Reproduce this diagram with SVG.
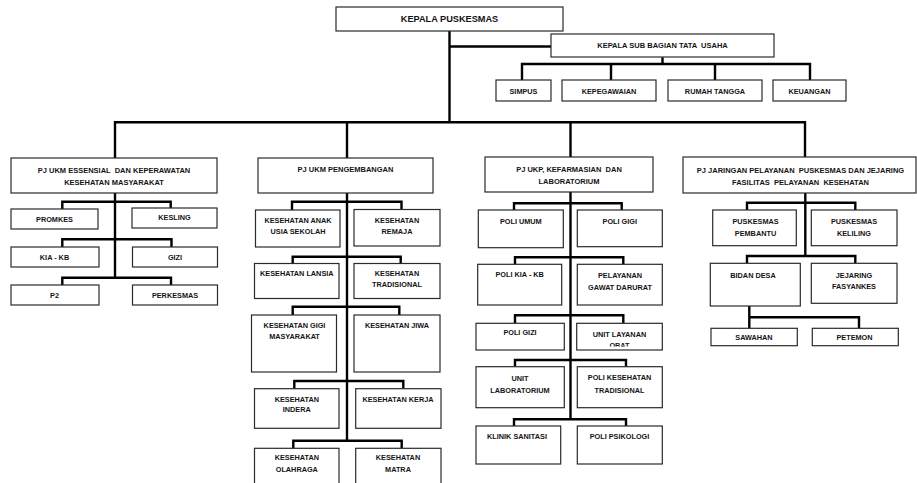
<svg xmlns="http://www.w3.org/2000/svg" width="917" height="483" viewBox="0 0 917 483">
<style>
.box{fill:#fff;stroke:#2a2a2a;stroke-width:1.2}
.t{font-family:"Liberation Sans",Arial,sans-serif;font-weight:bold;font-size:7.3px;fill:#141414;text-anchor:middle;white-space:pre}
.h{font-size:7.5px}
.big{font-size:9.2px}
.c{stroke:#000;stroke-width:2.4;fill:none;stroke-linejoin:miter}
</style>
<defs>
<clipPath id="clipObat"><rect x="576" y="323" width="87" height="23.5"/></clipPath>
</defs>
<rect width="917" height="483" fill="#fff"/>
<g id="connectors">
<path class="c" d="M449.5 31 V122.3"/>
<path class="c" d="M449.5 46.5 H551"/>
<path class="c" d="M662.5 57.3 V64"/>
<path class="c" d="M522 80 V64 H810 V80"/>
<path class="c" d="M611 64 V80"/>
<path class="c" d="M715 64 V80"/>
<path class="c" d="M115 158 V122.3 H805 V158"/>
<path class="c" d="M347 122.3 V158"/>
<path class="c" d="M570.5 122.3 V157"/>
<path class="c" d="M115 193 V277.7"/>
<path class="c" d="M62.3 209 V201.7 H170.7 V208"/>
<path class="c" d="M62.3 247 V239.3 H171.5 V247"/>
<path class="c" d="M62.3 285 V277.7 H171 V285"/>
<path class="c" d="M347 193 V440.7"/>
<path class="c" d="M292 210 V201.7 H401.5 V209.5"/>
<path class="c" d="M292.7 263.5 V256.7 H400.7 V263.5"/>
<path class="c" d="M292.7 315 V306.7 H399.3 V315"/>
<path class="c" d="M294.3 388.7 V381 H403.3 V388.7"/>
<path class="c" d="M293.3 448.3 V440.7 H401.7 V448.3"/>
<path class="c" d="M570.5 192 V419.3"/>
<path class="c" d="M514 210 V203.3 H621.7 V210"/>
<path class="c" d="M515 264.3 V257.3 H623.3 V264.3"/>
<path class="c" d="M515 323.3 V315.3 H623.3 V323.3"/>
<path class="c" d="M515 366.7 V360 H626 V366.7"/>
<path class="c" d="M514 426 V419.3 H626 V426"/>
<path class="c" d="M805.3 193 V256"/>
<path class="c" d="M747 210 V202.7 H855.3 V210"/>
<path class="c" d="M747 263.3 V256 H855.3 V263.3"/>
<path class="c" d="M749.3 306 V328.3"/>
<path class="c" d="M749.3 317.3 H859 V328.3"/>
</g>
<g id="kepala"><rect class="box" x="336" y="7" width="227" height="24"/><text class="t big" x="449.5" y="22.4">KEPALA PUSKESMAS</text></g>
<g id="subbag"><rect class="box" x="551" y="34" width="223" height="23"/><text class="t h" x="662.5" y="47.7">KEPALA SUB BAGIAN TATA  USAHA</text></g>
<g id="simpus"><rect class="box" x="496" y="80" width="55" height="21"/><text class="t" x="523.5" y="93.7">SIMPUS</text></g>
<g id="kepegawaian"><rect class="box" x="562" y="80" width="94" height="21"/><text class="t" x="609" y="93.7">KEPEGAWAIAN</text></g>
<g id="rumahtangga"><rect class="box" x="668" y="80" width="94" height="21"/><text class="t" x="715" y="93.7">RUMAH TANGGA</text></g>
<g id="keuangan"><rect class="box" x="773" y="80" width="73" height="21"/><text class="t" x="809.5" y="93.7">KEUANGAN</text></g>

<g id="pj1"><rect class="box" x="11" y="158" width="206" height="35"/><text class="t h" x="114" y="173.4">PJ UKM ESSENSIAL  DAN KEPERAWATAN</text><text class="t h" x="114" y="185">KESEHATAN MASYARAKAT</text></g>
<g id="pj2"><rect class="box" x="258" y="158" width="175" height="35"/><text class="t h" x="345.5" y="172">PJ UKM PENGEMBANGAN</text></g>
<g id="pj3"><rect class="box" x="485" y="157" width="168" height="35"/><text class="t h" x="569" y="172">PJ UKP, KEFARMASIAN  DAN</text><text class="t h" x="569" y="183.7">LABORATORIUM</text></g>
<g id="pj4"><rect class="box" x="683" y="157" width="233" height="36"/><text class="t h" x="800.5" y="172.7">PJ JARINGAN PELAYANAN  PUSKESMAS DAN JEJARING</text><text class="t h" x="800.5" y="185">FASILITAS  PELAYANAN  KESEHATAN</text></g>

<g id="promkes"><rect class="box" x="11" y="209" width="87" height="20"/><text class="t" x="54.5" y="221.7">PROMKES</text></g>
<g id="kesling"><rect class="box" x="132" y="208" width="85" height="20"/><text class="t" x="174.5" y="220">KESLING</text></g>
<g id="kiakb"><rect class="box" x="11" y="247" width="88" height="20"/><text class="t" x="54.5" y="260">KIA - KB</text></g>
<g id="gizi"><rect class="box" x="132.5" y="247" width="85" height="20"/><text class="t" x="175" y="260">GIZI</text></g>
<g id="p2"><rect class="box" x="11" y="285" width="88" height="20"/><text class="t" x="54.5" y="297.7">P2</text></g>
<g id="perkesmas"><rect class="box" x="132.5" y="285" width="85" height="20"/><text class="t" x="175" y="297.7">PERKESMAS</text></g>

<g id="kaus"><rect class="box" x="255.5" y="210" width="84.5" height="37"/><text class="t" x="298" y="223.4">KESEHATAN ANAK</text><text class="t" x="298" y="233.7">USIA SEKOLAH</text></g>
<g id="remaja"><rect class="box" x="354" y="209.5" width="86" height="36.5"/><text class="t" x="397" y="223.4">KESEHATAN</text><text class="t" x="397" y="233.7">REMAJA</text></g>
<g id="lansia"><rect class="box" x="254.5" y="263.5" width="84.5" height="35"/><text class="t" x="296.8" y="276">KESEHATAN LANSIA</text></g>
<g id="tradisional"><rect class="box" x="354" y="263.5" width="86" height="35"/><text class="t" x="397" y="276">KESEHATAN</text><text class="t" x="397" y="287">TRADISIONAL</text></g>
<g id="gigimas"><rect class="box" x="251.5" y="315" width="85" height="57"/><text class="t" x="294.5" y="327.7">KESEHATAN GIGI</text><text class="t" x="294.5" y="338.7">MASYARAKAT</text></g>
<g id="jiwa"><rect class="box" x="354" y="315" width="86" height="57"/><text class="t" x="397" y="328.4">KESEHATAN JIWA</text></g>
<g id="indera"><rect class="box" x="254.5" y="388.7" width="84.5" height="39.6"/><text class="t" x="296.8" y="401.7">KESEHATAN</text><text class="t" x="296.8" y="412">INDERA</text></g>
<g id="kerja"><rect class="box" x="355.7" y="388.7" width="85.3" height="39.6"/><text class="t" x="398" y="401.7">KESEHATAN KERJA</text></g>
<g id="olahraga"><rect class="box" x="254.5" y="448.3" width="84.5" height="40"/><text class="t" x="296.8" y="460.4">KESEHATAN</text><text class="t" x="296.8" y="472">OLAHRAGA</text></g>
<g id="matra"><rect class="box" x="355.7" y="448.3" width="85.3" height="40"/><text class="t" x="398" y="460.4">KESEHATAN</text><text class="t" x="398" y="472">MATRA</text></g>

<g id="poliumum"><rect class="box" x="478.3" y="210" width="85" height="37.7"/><text class="t" x="520.8" y="224">POLI UMUM</text></g>
<g id="poligigi"><rect class="box" x="577.3" y="210" width="85" height="36.7"/><text class="t" x="619.8" y="224">POLI GIGI</text></g>
<g id="polikiakb"><rect class="box" x="477.7" y="264.3" width="84" height="40.7"/><text class="t" x="519.7" y="277">POLI KIA - KB</text></g>
<g id="ugd"><rect class="box" x="577.3" y="264.3" width="85" height="40.7"/><text class="t" x="620" y="278.4">PELAYANAN</text><text class="t" x="620" y="290">GAWAT DARURAT</text></g>
<g id="poligizi"><rect class="box" x="476" y="323.3" width="88.3" height="26.7"/><text class="t" x="520" y="335.4">POLI GIZI</text></g>
<g id="obat"><rect class="box" x="576.7" y="323.3" width="85.6" height="26.7"/><text class="t" x="619.5" y="336.7">UNIT LAYANAN</text><text class="t" x="619.5" y="348.2" clip-path="url(#clipObat)">OBAT</text></g>
<g id="lab"><rect class="box" x="476" y="366.7" width="88.3" height="41"/><text class="t" x="520" y="381">UNIT</text><text class="t" x="520" y="392.7">LABORATORIUM</text></g>
<g id="polikestrad"><rect class="box" x="577.3" y="366.7" width="85" height="41"/><text class="t" x="619.5" y="380.4">POLI KESEHATAN</text><text class="t" x="619.5" y="392.7">TRADISIONAL</text></g>
<g id="klinik"><rect class="box" x="476" y="426" width="84.7" height="38"/><text class="t" x="517" y="439.4">KLINIK SANITASI</text></g>
<g id="psikologi"><rect class="box" x="577.3" y="426" width="85" height="38"/><text class="t" x="619.5" y="439.4">POLI PSIKOLOGI</text></g>

<g id="pustu"><rect class="box" x="712.7" y="210" width="83.6" height="35.7"/><text class="t" x="755.5" y="224.4">PUSKESMAS</text><text class="t" x="755.5" y="236">PEMBANTU</text></g>
<g id="pusling"><rect class="box" x="811.3" y="210" width="85.7" height="35.7"/><text class="t" x="854" y="224.4">PUSKESMAS</text><text class="t" x="854" y="236">KELILING</text></g>
<g id="bidan"><rect class="box" x="710.3" y="263.3" width="90" height="42.7"/><text class="t" x="753" y="277.7">BIDAN DESA</text></g>
<g id="jejaring"><rect class="box" x="811.3" y="263.3" width="85.7" height="40"/><text class="t" x="854" y="277.7">JEJARING</text><text class="t" x="854" y="289.4">FASYANKES</text></g>
<g id="sawahan"><rect class="box" x="711" y="328.3" width="86.3" height="17.4"/><text class="t" x="754" y="340.2">SAWAHAN</text></g>
<g id="petemon"><rect class="box" x="812.3" y="328.3" width="86" height="17.4"/><text class="t" x="854.5" y="340.2">PETEMON</text></g>
</svg>
